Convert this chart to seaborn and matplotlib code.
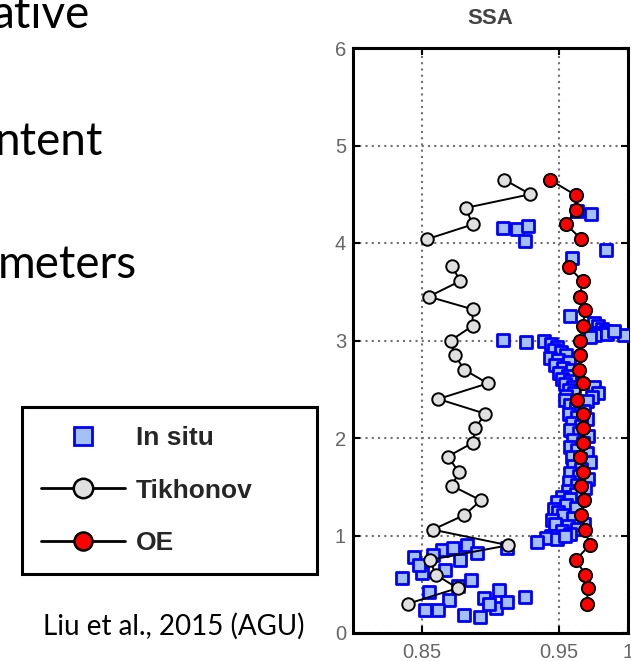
import matplotlib
matplotlib.use("Agg")
import matplotlib.pyplot as plt
import seaborn as sns
import pandas as pd
from matplotlib.lines import Line2D

# ---------------- data ----------------
insitu_ssa = [0.963, 0.973, 0.909, 0.919, 0.927, 0.925, 0.984, 0.959, 0.958,
              0.975, 0.978, 0.981, 0.984, 0.979, 0.976, 0.985, 0.997, 0.990, 0.972,
              0.909, 0.926, 0.939, 0.944, 0.948,
              0.946, 0.951, 0.955, 0.943, 0.949, 0.957, 0.947, 0.953, 0.959, 0.950,
              0.956, 0.952, 0.958, 0.954, 0.960, 0.957, 0.961, 0.955, 0.954,
              0.975, 0.978, 0.974, 0.970,
              0.958, 0.962, 0.968, 0.957, 0.963, 0.970, 0.959, 0.966, 0.958, 0.964,
              0.971, 0.960, 0.967, 0.958, 0.963, 0.970, 0.959, 0.965, 0.972, 0.960,
              0.966, 0.958, 0.964, 0.971, 0.957, 0.963, 0.969, 0.956, 0.962,
              0.952, 0.958, 0.948, 0.955, 0.962, 0.946, 0.949, 0.953, 0.960, 0.945,
              0.947, 0.956, 0.968, 0.963, 0.952, 0.958, 0.944, 0.940, 0.948, 0.934, 0.954,
              0.8355, 0.844, 0.850, 0.8645, 0.873, 0.8826, 0.878, 0.867, 0.855, 0.886,
              0.870, 0.852, 0.862, 0.881, 0.892, 0.895, 0.906, 0.904, 0.912, 0.925,
              0.912, 0.848, 0.858, 0.876, 0.890, 0.899]
insitu_alt = [4.33, 4.30, 4.15, 4.14, 4.17, 4.02, 3.93, 3.85, 3.25,
              3.18, 3.15, 3.12, 3.10, 3.08, 3.06, 3.07, 3.06, 3.10, 3.04,
              3.01, 2.98, 2.99, 2.96, 2.93,
              2.90, 2.88, 2.85, 2.82, 2.80, 2.78, 2.75, 2.72, 2.70, 2.67,
              2.64, 2.61, 2.58, 2.55, 2.52, 2.49, 2.46, 2.43, 2.39,
              2.52, 2.46, 2.42, 2.38,
              2.34, 2.31, 2.28, 2.25, 2.22, 2.19, 2.15, 2.12, 2.08, 2.05,
              2.02, 1.98, 1.95, 1.91, 1.88, 1.85, 1.81, 1.78, 1.75, 1.71,
              1.68, 1.64, 1.61, 1.58, 1.55, 1.52, 1.49, 1.46, 1.43,
              1.40, 1.37, 1.34, 1.31, 1.28, 1.27, 1.24, 1.21, 1.18, 1.16,
              1.12, 1.10, 1.12, 1.07, 1.05, 1.02, 1.00, 0.97, 0.96, 0.93, 0.99,
              0.56, 0.78, 0.62, 0.85, 0.87, 0.90, 0.75, 0.65, 0.42, 0.54,
              0.34, 0.24, 0.24, 0.185, 0.165, 0.36, 0.44, 0.26, 0.32, 0.37,
              0.87, 0.70, 0.80, 0.48, 0.82, 0.30]

tikhonov_ssa = [0.910, 0.929, 0.882, 0.887, 0.854,
                0.872, 0.878, 0.855, 0.887, 0.887, 0.871, 0.874, 0.881, 0.898, 0.862,
                0.896, 0.889, 0.887, 0.869, 0.877, 0.872, 0.893, 0.881, 0.858, 0.913,
                0.856, 0.860, 0.876, 0.840]
tikhonov_alt = [4.65, 4.50, 4.36, 4.19, 4.04,
                3.76, 3.61, 3.45, 3.32, 3.15, 3.00, 2.85, 2.70, 2.56, 2.40,
                2.25, 2.10, 1.95, 1.81, 1.65, 1.51, 1.36, 1.21, 1.06, 0.90,
                0.75, 0.60, 0.46, 0.30]
tikhonov_seg = [0] * 5 + [1] * 24

oe_ssa = [0.943, 0.962, 0.962, 0.955, 0.966,
          0.957, 0.967, 0.965, 0.969, 0.967, 0.965, 0.965, 0.964, 0.967, 0.963,
          0.967, 0.967, 0.967, 0.965, 0.967, 0.966, 0.968, 0.966, 0.969, 0.972,
          0.962, 0.969, 0.971, 0.970]
oe_alt = [4.65, 4.49, 4.34, 4.19, 4.04,
          3.75, 3.61, 3.45, 3.31, 3.15, 3.00, 2.85, 2.70, 2.56, 2.39,
          2.25, 2.10, 1.95, 1.81, 1.65, 1.51, 1.36, 1.21, 1.06, 0.90,
          0.75, 0.60, 0.46, 0.30]
oe_seg = [0] * 5 + [1] * 24

xticks = [0.85, 0.95, 1.0]
xticklabels = ["0.85", "0.95", "1"]
yticks = [0, 1, 2, 3, 4, 5, 6]
yticklabels = ["0", "1", "2", "3", "4", "5", "6"]
legend_labels = ["In situ", "Tikhonov", "OE"]
panel_title = "SSA"
slide_words = ["ative", "ntent", "meters"]
citation = "Liu et al., 2015 (AGU)"

# ---------------- style ----------------
sns.set_theme(style="white")
plt.rcParams["font.family"] = ["Liberation Sans", "DejaVu Sans"]

W, H = 631, 661
fig = plt.figure(figsize=(W / 100, H / 100), dpi=100)
fig.patch.set_facecolor("white")

ax = fig.add_axes([353 / W, 28 / H, 275 / W, 585 / H])

df_in = pd.DataFrame({"ssa": insitu_ssa, "alt": insitu_alt})
df_tk = pd.DataFrame({"ssa": tikhonov_ssa, "alt": tikhonov_alt, "seg": tikhonov_seg})
df_oe = pd.DataFrame({"ssa": oe_ssa, "alt": oe_alt, "seg": oe_seg})

sns.scatterplot(data=df_in, x="ssa", y="alt", marker="s", s=72,
                color="#a4c0f4", edgecolor="#0000ff", linewidth=2.0,
                ax=ax, zorder=3, legend=False)
sns.lineplot(data=df_tk, x="ssa", y="alt", units="seg", estimator=None, sort=False,
             color="black", lw=1.4, marker="o", markersize=9,
             markerfacecolor="#e0e0e0", markeredgecolor="black", markeredgewidth=1.4,
             ax=ax, zorder=4, legend=False)
sns.lineplot(data=df_oe, x="ssa", y="alt", units="seg", estimator=None, sort=False,
             color="black", lw=1.4, marker="o", markersize=9.5,
             markerfacecolor="#ff0000", markeredgecolor="black", markeredgewidth=1.4,
             ax=ax, zorder=5, legend=False)

ax.set_xlim(0.8, 1.0)
ax.set_ylim(0, 6)
ax.set_xticks(xticks)
ax.set_xticklabels(xticklabels)
ax.set_yticks(yticks)
ax.set_yticklabels(yticklabels)
ax.set_xlabel("")
ax.set_ylabel("")
ax.set_axisbelow(True)
ax.grid(True, linestyle=(0, (1, 2)), color="#707070", lw=1.5)
ax.tick_params(direction="in", length=5, width=1.5, color="black",
               top=True, right=True, bottom=True, left=True,
               labelsize=14.5, labelcolor="#666666")
ax.tick_params(axis="x", pad=7)
ax.tick_params(axis="y", pad=5)
for sp in ax.spines.values():
    sp.set_visible(True)
    sp.set_color("black")
    sp.set_linewidth(2.2)
ax.set_title(panel_title, fontsize=16, fontweight="bold", color="#444444", pad=17)

# ---------------- legend ----------------
h_in = Line2D([], [], linestyle="none", marker="s", markersize=13,
              markerfacecolor="#a4c0f4", markeredgecolor="#0000ff", markeredgewidth=2)
h_tk = Line2D([], [], color="black", lw=2, marker="o", markersize=14,
              markerfacecolor="#e0e0e0", markeredgecolor="black", markeredgewidth=1.8)
h_oe = Line2D([], [], color="black", lw=2, marker="o", markersize=13,
              markerfacecolor="#ff0000", markeredgecolor="black", markeredgewidth=1.8)
leg = fig.legend(handles=[h_in, h_tk, h_oe], labels=legend_labels,
                 loc="upper left",
                 bbox_to_anchor=(22 / W, 1 - 572 / H, 295 / W, 165 / H),
                 bbox_transform=fig.transFigure, mode="expand",
                 prop={"family": "Liberation Sans", "weight": "bold", "size": 19},
                 frameon=True, fancybox=False, framealpha=1, edgecolor="black",
                 handlelength=3.2, handletextpad=0.4, borderpad=0.72,
                 labelspacing=1.08, borderaxespad=0)
leg.get_frame().set_linewidth(2.2)

# ---------------- slide text ----------------
fig.text(90 / W, 1 - 28 / H, slide_words[0], ha="right", va="baseline",
         fontsize=33, family="Lato", color="black")
fig.text(103 / W, 1 - 155 / H, slide_words[1], ha="right", va="baseline",
         fontsize=33, family="Lato", color="black")
fig.text(137 / W, 1 - 278 / H, slide_words[2], ha="right", va="baseline",
         fontsize=33, family="Lato", color="black")
fig.text(174 / W, 1 - 635 / H, citation, ha="center", va="baseline",
         fontsize=20, family="Lato", color="black")

fig.savefig("out.png", dpi=100, facecolor="white")
